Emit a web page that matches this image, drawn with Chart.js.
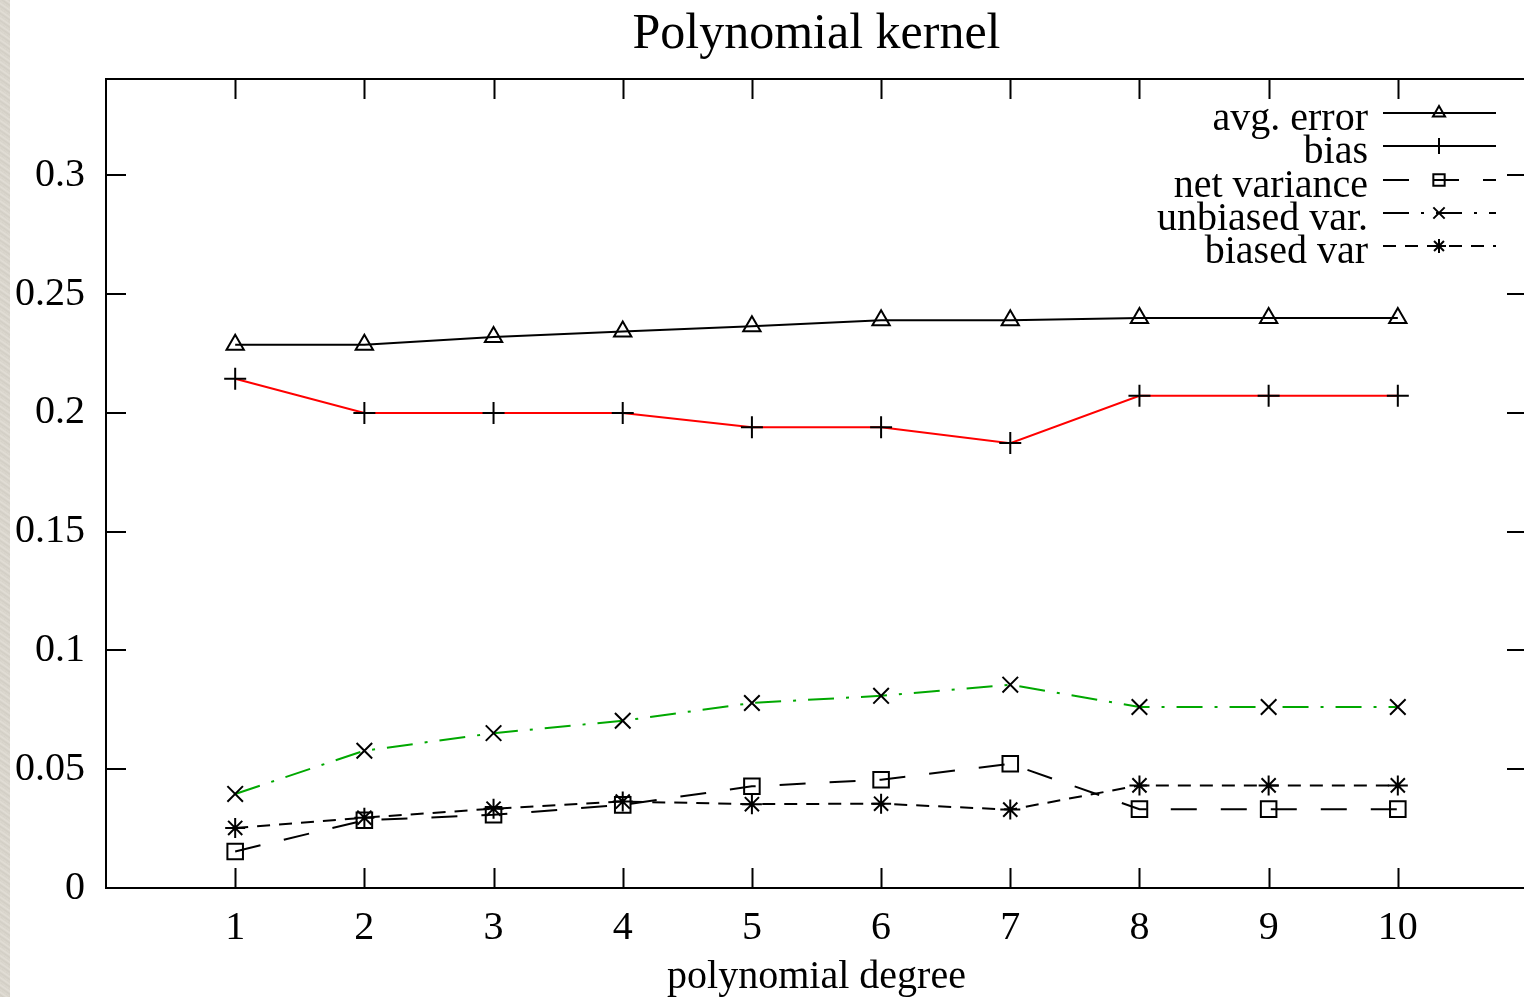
<!DOCTYPE html>
<html>
<head>
<meta charset="utf-8">
<script src="https://cdn.jsdelivr.net/npm/chart.js@4/dist/chart.umd.min.js"></script>
<style>
  html, body { margin: 0; padding: 0; background: #fff; overflow: hidden; }
  #wrap { position: relative; width: 1524px; height: 997px; overflow: hidden; }
  #chart { position: absolute; left: 0; top: 0; }
  #strip {
    position: absolute; left: 0; top: 0; width: 10px; height: 997px;
    background: repeating-linear-gradient(35deg, #dcd8cf 0px, #d2cec5 2px, #e2ded6 4px, #d6d2c9 6px);
  }
</style>
</head>
<body>
<div id="wrap">
  <canvas id="chart" width="1540" height="997"></canvas>
  <div id="strip"></div>
</div>
<script>
// values
var chartTitle = 'Polynomial kernel';
var degrees = [1, 2, 3, 4, 5, 6, 7, 8, 9, 10];
var avgError = [0.2287, 0.2287, 0.232, 0.2343, 0.2365, 0.239, 0.239, 0.24, 0.24, 0.24];
var bias = [0.2144, 0.2, 0.2, 0.2, 0.194, 0.194, 0.1873, 0.2072, 0.2072, 0.2072];
var netVariance = [0.0154, 0.0285, 0.0308, 0.035, 0.0428, 0.0456, 0.0523, 0.0332, 0.0332, 0.0332];
var unbiasedVar = [0.0396, 0.0578, 0.0652, 0.0704, 0.0779, 0.0809, 0.0856, 0.0762, 0.0762, 0.0762];
var biasedVar = [0.0253, 0.0296, 0.0334, 0.0364, 0.0353, 0.0355, 0.033, 0.0432, 0.0432, 0.0432];
var seriesNames = ['avg. error', 'bias', 'net variance', 'unbiased var.', 'biased var'];
var xTicks = [1, 2, 3, 4, 5, 6, 7, 8, 9, 10];
var yTicks = [0, 0.05, 0.1, 0.15, 0.2, 0.25, 0.3];

var serif = '"Liberation Serif", "Times New Roman", serif';
var green = '#00a800';

function pts(values) {
	return degrees.map(function(d, i) { return { x: d, y: values[i] }; });
}

function series(label, values, color, dash, style) {
	return {
		label: label,
		data: pts(values),
		borderColor: color,
		borderWidth: 2,
		borderDash: dash,
		pointStyle: style,
		pointRadius: style === 'star' ? 10 : 11,
		pointBorderColor: '#000',
		pointBackgroundColor: 'rgba(0,0,0,0)',
		pointBorderWidth: 2,
		tension: 0,
		fill: false
	};
}

var datasets = [
	series(seriesNames[0], avgError, '#000', [], 'triangle'),
	series(seriesNames[1], bias, '#ff0000', [], 'cross'),
	series(seriesNames[2], netVariance, '#000', [26, 24], 'rect'),
	series(seriesNames[3], unbiasedVar, green, [26, 12, 3, 12], 'crossRot'),
	series(seriesNames[4], biasedVar, '#000', [13, 9], 'star')
];
datasets[0].pointRadius = 10;

// gnuplot style frame, inward ticks, title over the plot area and key
var framePlugin = {
	id: 'frame',
	beforeDraw: function(chart) {
		var c = chart.ctx;
		c.save();
		c.fillStyle = '#fff';
		c.fillRect(0, 0, chart.width, chart.height);
		c.restore();
	},
	afterDraw: function(chart) {
		var c = chart.ctx;
		var a = chart.chartArea;
		var xs = chart.scales.x, ys = chart.scales.y;
		var t = 20;
		c.save();
		c.strokeStyle = '#000';
		c.lineWidth = 2;
		c.strokeRect(a.left, a.top, a.right - a.left, a.bottom - a.top);
		c.beginPath();
		xTicks.forEach(function(v) {
			var px = Math.round(xs.getPixelForValue(v)) + 0.5;
			c.moveTo(px, a.bottom); c.lineTo(px, a.bottom - t);
			c.moveTo(px, a.top); c.lineTo(px, a.top + t);
		});
		yTicks.forEach(function(v) {
			var py = Math.round(ys.getPixelForValue(v));
			c.moveTo(a.left, py); c.lineTo(a.left + t, py);
			c.moveTo(a.right, py); c.lineTo(a.right - t, py);
		});
		c.stroke();

		// title, centred on the plot like gnuplot does
		c.fillStyle = '#000';
		c.font = '50px ' + serif;
		c.textAlign = 'center';
		c.textBaseline = 'alphabetic';
		c.fillText(chartTitle, (a.left + a.right) / 2, 48);

		// key
		var textRight = 1368, lineL = 1383, lineR = 1496, mid = 1439;
		c.font = '40px ' + serif;
		c.textAlign = 'right';
		chart.data.datasets.forEach(function(ds, i) {
			var base = 130 + i * 33.3;
			var ly = Math.round(base - 17);
			c.fillStyle = '#000';
			c.fillText(ds.label, textRight, base);
			c.strokeStyle = '#000';
			c.lineWidth = 2;
			c.setLineDash(ds.borderDash);
			c.beginPath();
			c.moveTo(lineL, ly); c.lineTo(lineR, ly);
			c.stroke();
			c.setLineDash([]);
			c.fillStyle = 'rgba(0,0,0,0)';
			Chart.helpers.drawPoint(c, {
				pointStyle: ds.pointStyle, radius: ds.pointRadius - 3, rotation: 0, borderWidth: 2
			}, mid, ly);
		});
		c.restore();
	}
};

var chart = new Chart(document.getElementById('chart'), {
	type: 'line',
	data: { datasets: datasets },
	options: {
		responsive: false,
		animation: false,
		layout: { padding: { left: 0, right: 13, top: 79, bottom: 0 } },
		plugins: {
			legend: { display: false },
			tooltip: { enabled: false },
			title: { display: false }
		},
		scales: {
			x: {
				type: 'linear',
				min: 0,
				max: 11,
				grid: { display: false, drawTicks: false },
				border: { display: false },
				afterBuildTicks: function(s) { s.ticks = xTicks.map(function(v) { return { value: v }; }); },
				afterFit: function(s) { s.height = 109; },
				ticks: {
					color: '#000', padding: 16, maxRotation: 0, autoSkip: false,
					font: { family: serif, size: 40 },
					callback: function(v) { return String(v); }
				},
				title: {
					display: true,
					text: 'polynomial degree',
					color: '#000',
					font: { family: serif, size: 40, lineHeight: 1 },
					padding: { top: 0, bottom: 0 }
				}
			},
			y: {
				type: 'linear',
				min: 0,
				max: 0.3406,
				grid: { display: false, drawTicks: false },
				border: { display: false },
				afterBuildTicks: function(s) { s.ticks = yTicks.map(function(v) { return { value: v }; }); },
				afterFit: function(s) { s.width = 106; },
				ticks: {
					color: '#000', padding: 21, autoSkip: false,
					font: { family: serif, size: 40 },
					callback: function(v) { return String(+v.toFixed(2)); }
				}
			}
		}
	},
	plugins: [framePlugin]
});
</script>
</body>
</html>
